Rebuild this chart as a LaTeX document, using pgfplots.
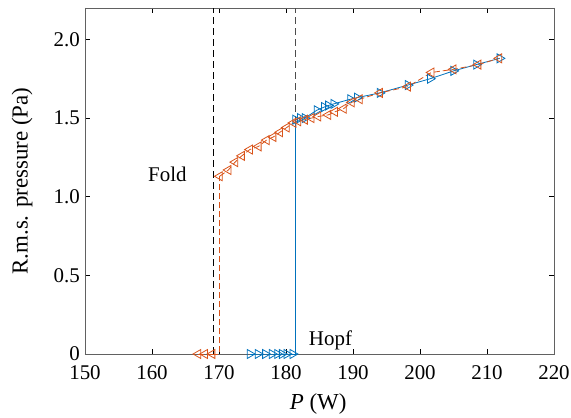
\documentclass[border=0pt]{standalone}
\usepackage{fontspec}
\setmainfont{Liberation Serif}
\usepackage{pgfplots}
\pgfplotsset{compat=1.18}

\definecolor{mblue}{rgb}{0,0.447,0.741}
\definecolor{morange}{rgb}{0.85,0.325,0.098}
\definecolor{axgray}{rgb}{0.38,0.38,0.38}

\begin{document}
\begin{tikzpicture}
\begin{axis}[
  scale only axis,
  width=469bp, height=346bp,
  xmin=150, xmax=220, ymin=0, ymax=2.2,
  xtick={150,160,...,220},
  ytick={0,0.5,1,1.5,2},
  yticklabels={0,0.5,1.0,1.5,2.0},
  tick align=inside,
  major tick length=5bp,
  tick style={black, line width=0.6bp},
  axis line style={axgray, line width=0.9bp},
  /pgf/number format/assume math mode=true,
  ticklabel style={font=\fontsize{21}{24}\selectfont},
  xticklabel style={anchor=base, inner sep=0pt, yshift=-25bp},
  yticklabel style={anchor=east, inner sep=0pt, xshift=-5bp},
  xlabel={\textit{P} (W)},
  ylabel={R.m.s. pressure (Pa)},
  label style={font=\fontsize{23}{26}\selectfont},
  xlabel style={at={(axis description cs:0.497,-0.1618)}, anchor=base, inner sep=0pt},
  ylabel style={at={(axis description cs:-0.1343,0.5)}, anchor=center, inner sep=0pt},
  clip=false,
]
\coordinate (bl) at (rel axis cs:0,0);
% fold and Hopf lines
\addplot[black, line width=0.8bp, dash pattern=on 7bp off 4bp] coordinates {(169.1,0) (169.1,2.2)};
\addplot[black!70, line width=0.8bp, dash pattern=on 7bp off 4bp] coordinates {(181.4,0) (181.4,2.2)};

% blue branch (increasing P)
\addplot[mblue, line width=0.8bp, mark=triangle, mark size=5.2bp,
  mark options={rotate=-90, solid, line width=0.8bp}] coordinates {
  (174.6,0) (175.8,0) (176.9,0) (177.9,0) (178.7,0) (179.4,0) (180.1,0) (181.0,0)
};
\addplot[mblue, line width=0.8bp] coordinates {(181.0,0) (181.4,0) (181.4,1.49)};
\addplot[mblue, line width=0.8bp, mark=triangle, mark size=5.2bp,
  mark options={rotate=-90, solid, line width=0.8bp}] coordinates {
  (181.4,1.49) (182.1,1.50) (182.8,1.50) (184.6,1.55) (185.7,1.57) (186.3,1.58)
  (187.1,1.59) (189.6,1.62) (190.6,1.63) (194.0,1.66) (198.2,1.71) (201.5,1.75)
  (205.0,1.80) (208.4,1.84) (211.9,1.88)
};

% orange branch (decreasing P)
\addplot[morange, line width=0.8bp, dash pattern=on 6bp off 3bp, mark=triangle, mark size=5.2bp,
  mark options={rotate=90, solid, line width=0.8bp}] coordinates {
  (166.9,0) (167.9,0) (169.0,0)
};
\addplot[morange, line width=0.8bp, dash pattern=on 6bp off 3bp] coordinates {(169.0,0) (170.1,0) (170.1,1.13)};
\addplot[morange, line width=0.8bp, dash pattern=on 6bp off 3bp, mark=triangle, mark size=5.2bp,
  mark options={rotate=90, solid, line width=0.8bp}] coordinates {
  (170.1,1.13) (171.4,1.17) (172.4,1.22) (173.4,1.26) (174.6,1.30) (175.9,1.32)
  (177.1,1.36) (178.1,1.38) (179.1,1.41) (180.1,1.44) (181.1,1.47) (181.8,1.48)
  (182.8,1.49) (183.8,1.50) (184.8,1.51) (186.3,1.52) (187.3,1.54) (188.6,1.56)
  (189.8,1.60) (191.0,1.62) (194.0,1.66) (198.2,1.70) (201.7,1.79) (205.0,1.81)
  (208.7,1.84) (211.8,1.88)
};

\node[font=\fontsize{21}{24}\selectfont, anchor=base, inner sep=0pt] at (axis cs:162.3,1.094) {Fold};
\node[font=\fontsize{21}{24}\selectfont, anchor=base west, inner sep=0pt] at (axis cs:183.4,0.057) {Hopf};
\end{axis}
\pgfresetboundingbox
\path (bl) ++(-85bp,-64bp) rectangle ++(571bp,418bp);
\end{tikzpicture}
\end{document}
